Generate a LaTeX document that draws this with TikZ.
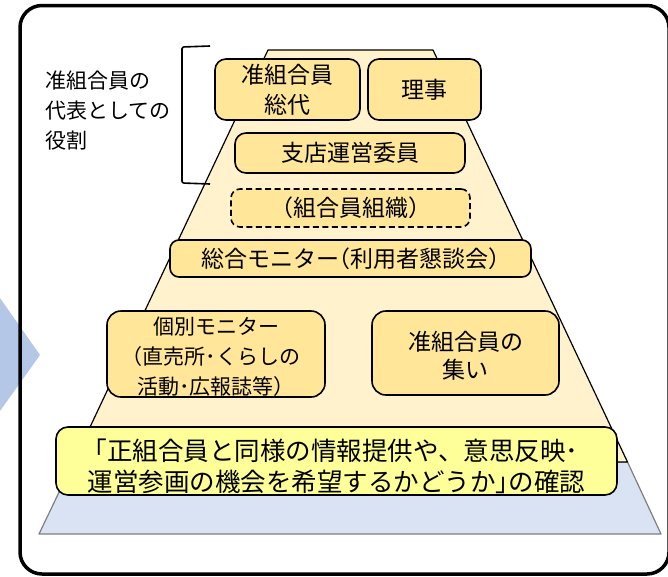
\documentclass[tikz,border=0pt]{standalone}
\usepackage{fontspec}
\setmainfont{Noto Sans CJK JP}
\newcommand{\halfp}[1]{{\addfontfeature{RawFeature=+halt}#1}}
\definecolor{boxfill}{HTML}{FFE699}
\definecolor{pyrfill}{HTML}{FFF2CC}
\definecolor{basefill}{HTML}{DAE3F3}
\definecolor{baseline}{HTML}{7F7F7F}
\definecolor{notefill}{HTML}{FFFF99}
\definecolor{chevron}{HTML}{B4C7E7}
\begin{document}
\begin{tikzpicture}[x=1pt,y=-1pt,
  tier/.style={draw=black,line width=1.6pt,fill=boxfill,rounded corners=11pt,
    inner sep=0pt,align=center,font=\fontsize{23}{30}\selectfont},
  notebox/.style={draw=black,line width=1.6pt,fill=notefill,rounded corners=12pt,
    inner sep=0pt,align=center},
  plaintext/.style={inner sep=0pt,align=center},
  labeltext/.style={inner sep=0pt,align=left,anchor=west,font=\fontsize{21}{30}\selectfont}]
\useasboundingbox (0,0) rectangle (668,576);
% chevron at the left
\fill[chevron] (0,298) -- (40,355) -- (0,411) -- cycle;
% frame
\draw[line width=3.5pt,rounded corners=22pt] (20,5.5) rectangle (669,574);
% pyramid base
\draw[fill=basefill,draw=baseline,line width=1.2pt,line join=round]
  (73.5,462) -- (627.5,462) -- (661,534) -- (39,534) -- cycle;
% pyramid
\draw[fill=pyrfill,draw=black,line width=1.2pt,line join=round]
  (268,50) -- (433,50) -- (627.5,462) -- (73.5,462) -- cycle;
% bracket
\coordinate (brt) at (210,46);
\coordinate (brb) at (210,184);
\draw[line width=1.6pt,rounded corners=2pt] (brt) -- (182,47) -- (182,183) -- (brb);
\node[labeltext] (role) at (45,111) {准組合員の\\代表としての\\役割};
% tiers
\node[tier,minimum width=145pt,minimum height=61pt] (sodai) at (287.5,89.5) {准組合員\\総代};
\node[tier,minimum width=113pt,minimum height=61pt] (riji) at (424.5,89.5) {理事};
\node[tier,minimum width=230pt,minimum height=40pt] (shiten) at (350,153) {支店運営委員};
\node[tier,dashed,dash pattern=on 6pt off 3.5pt,rounded corners=9pt,minimum width=239pt,minimum height=38pt] (soshiki) at (350.5,208) {（組合員組織）};
\node[tier,rounded corners=9pt,minimum width=361pt,minimum height=37pt] (monitor) at (350.5,258.5) {総合モニター\halfp{（}利用者懇談会\halfp{）}};
\node[tier,rounded corners=14pt,minimum width=218pt,minimum height=86pt] (kobetsu) at (216,354) {};
\node[plaintext,font=\fontsize{21}{30}\selectfont] (kobetsutext) at (216,357) {個別モニター\\\halfp{（}直売所･くらしの\\活動･広報誌等）};
\node[tier,rounded corners=14pt,minimum width=187pt,minimum height=84pt] (tsudoi) at (465.5,353) {};
\node[plaintext,font=\fontsize{23}{28}\selectfont] (tsudoitext) at (465.5,356) {准組合員の\\集い};
\node[notebox,minimum width=561pt,minimum height=68pt] (kakunin) at (336.5,461) {};
\node[plaintext,font=\fontsize{25.5}{31}\selectfont] (kakunintext) at (336.5,466) {｢正組合員と同様の情報提供や、意思反映･\\運営参画の機会を希望するかどうか｣の確認};
\end{tikzpicture}
\end{document}
